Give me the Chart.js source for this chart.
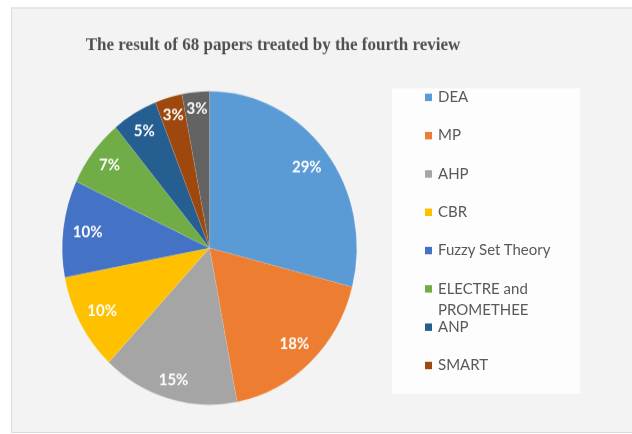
<!DOCTYPE html>
<html>
<head>
<meta charset="utf-8">
<script src="https://cdn.jsdelivr.net/npm/chart.js@4.4.1/dist/chart.umd.min.js"></script>
<style>
    html, body { margin: 0; padding: 0; background: #ffffff; }
    body { width: 632px; height: 434px; overflow: hidden; }
    /* the whole sheet is drawn a bit short and stretched vertically */
    #stage {
        position: relative;
        width: 632px;
        height: 408px;
        transform: scaleY(1.064);
        transform-origin: 0 0;
    }
    #frame {
        position: absolute;
        left: 11px; top: 6.6px;
        width: 625px; height: 398px;
        background: #f3f3f3;
        border: 1px solid #dadada;
    }
    #papersChart { position: absolute; left: 0; top: 0; }
    #legendBox {
        position: absolute;
        left: 392px; top: 82.7px;
        width: 188px; height: 287px;
        background: #fdfdfd;
    }
    #legend {
        position: absolute;
        left: 425px; top: 81.4px;
        margin: 0; padding: 0;
        list-style: none;
        font-family: Lato, "Open Sans", sans-serif;
        font-size: 15px;
        color: #595959;
    }
    #legend li {
        position: relative;
        height: 36px;
        line-height: 19.7px;
    }
    #legend .swatch {
        position: absolute;
        left: 0; top: 6.5px;
        width: 7px; height: 7px;
    }
    #legend .text {
        display: block;
        margin-left: 13px;
        width: 125px;
    }
</style>
</head>
<body>
<div id="stage">
    <div id="frame"></div>
    <div id="legendBox"></div>
    <canvas id="papersChart" width="632" height="408"></canvas>
    <ul id="legend"></ul>
</div>
<script>
    // Share of the 68 reviewed papers per method (percent)
    const methods = ['DEA', 'MP', 'AHP', 'CBR', 'Fuzzy Set Theory', 'ELECTRE and PROMETHEE', 'ANP', 'SMART', 'Others'];
    const shares = [29, 18, 15, 10, 10, 7, 5, 3, 3];
    const sliceColors = ['#5B9BD5', '#ED7D31', '#A5A5A5', '#FFC000', '#4472C4', '#70AD47', '#255E91', '#9E480E', '#636363'];
    const chartTitle = 'The result of 68 papers treated by the fourth review';
    const legendEntries = 8; // the legend box only has room for the first eight

    // Title centred over the frame rather than over the pie
    const frameTitle = {
        id: 'frameTitle',
        afterDraw(chart) {
            const ctx = chart.ctx;
            ctx.save();
            ctx.font = 'bold 17px "Liberation Serif", serif';
            ctx.fillStyle = '#505050';
            ctx.textAlign = 'center';
            ctx.textBaseline = 'middle';
            ctx.fillText(chartTitle, 273, 42.3);
            ctx.restore();
        }
    };

    // Percent labels placed just inside the outer edge of each slice
    const sliceLabels = {
        id: 'sliceLabels',
        afterDatasetsDraw(chart) {
            const ctx = chart.ctx;
            const meta = chart.getDatasetMeta(0);
            ctx.save();
            ctx.font = 'bold 15px Lato, sans-serif';
            ctx.fillStyle = '#ffffff';
            ctx.textAlign = 'center';
            ctx.textBaseline = 'middle';
            meta.data.forEach((arc, i) => {
                const p = arc.getProps(['x', 'y', 'startAngle', 'endAngle', 'outerRadius'], true);
                const mid = (p.startAngle + p.endAngle) / 2;
                const text = chart.data.datasets[0].data[i] + '%';
                const w = ctx.measureText(text).width;
                const h = 11;
                const cos = Math.cos(mid), sin = Math.sin(mid);
                const half = Math.abs(cos) * w / 2 + Math.abs(sin) * h / 2;
                const d = p.outerRadius - 9 - half;
                ctx.fillText(text, p.x + cos * d, p.y + sin * d);
            });
            ctx.restore();
        }
    };

    const ctx = document.getElementById('papersChart').getContext('2d');
    const chart = new Chart(ctx, {
        type: 'pie',
        data: {
            labels: methods,
            datasets: [{
                data: shares,
                backgroundColor: sliceColors,
                borderColor: 'rgba(255, 255, 255, 0.2)',
                borderWidth: 0.5
            }]
        },
        options: {
            responsive: false,
            animation: false,
            layout: {
                padding: { left: 62, right: 275, top: 85.6, bottom: 27.4 }
            },
            plugins: {
                legend: { display: false },
                tooltip: { enabled: false },
                title: { display: false }
            }
        },
        plugins: [frameTitle, sliceLabels]
    });

    // HTML legend built from the chart's own legend items
    const items = chart.options.plugins.legend.labels.generateLabels(chart);
    const list = document.getElementById('legend');
    items.slice(0, legendEntries).forEach(item => {
        const li = document.createElement('li');
        const swatch = document.createElement('span');
        swatch.className = 'swatch';
        swatch.style.background = item.fillStyle;
        const text = document.createElement('span');
        text.className = 'text';
        text.textContent = item.text;
        li.appendChild(swatch);
        li.appendChild(text);
        list.appendChild(li);
    });
</script>
</body>
</html>
